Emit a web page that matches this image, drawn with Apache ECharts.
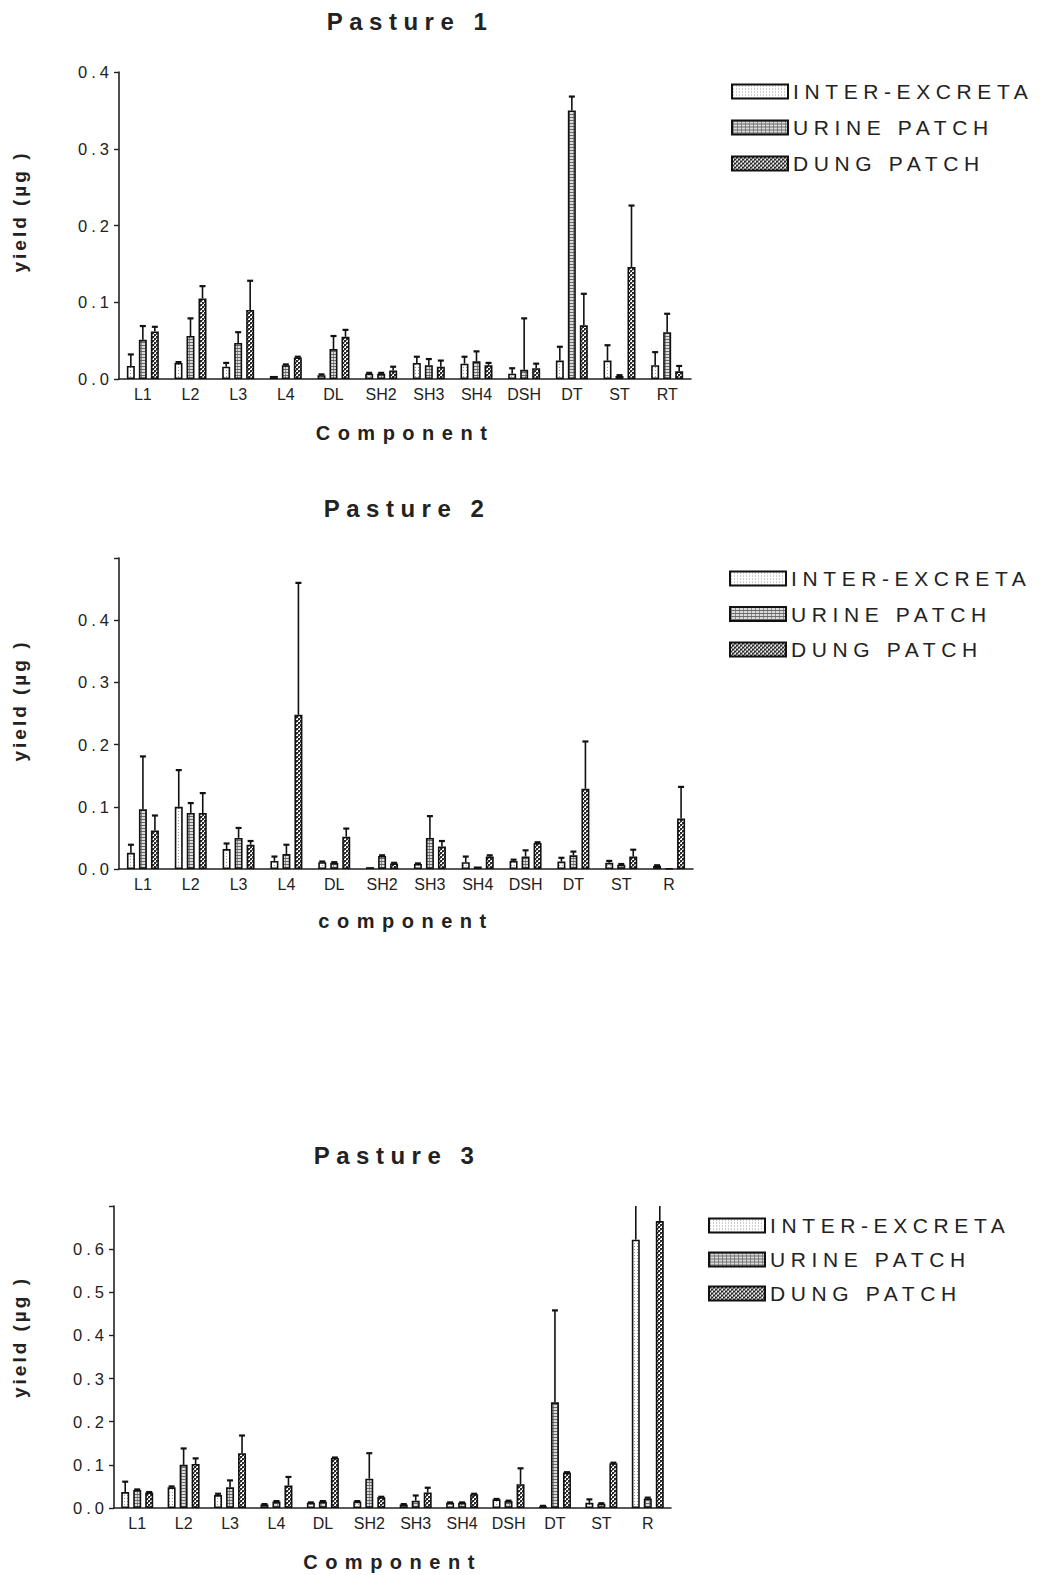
<!DOCTYPE html>
<html><head><meta charset="utf-8">
<script src="https://cdn.jsdelivr.net/npm/echarts@6/dist/echarts.min.js"></script>
<style>
html,body{margin:0;padding:0;background:#fff}
#c{width:1042px;height:1575px}
/* letter spacing of the original typeset figure, keyed by font size */
#c text[style*="24px"]{letter-spacing:6.5px}
#c text[style*="21px"]{letter-spacing:5.6px}
#c text[style*="16.5px"]{letter-spacing:4px}
#c text[style*="20px"]{letter-spacing:7.5px}
#c text[style*="19px"]{letter-spacing:3px}
</style>
</head><body><div id="c"></div>
<script>
// ---------- DATA ----------
const seriesNames = ['INTER-EXCRETA', 'URINE PATCH', 'DUNG PATCH'];
const cats1 = ['L1','L2','L3','L4','DL','SH2','SH3','SH4','DSH','DT','ST','RT'];
const cats2 = ['L1','L2','L3','L4','DL','SH2','SH3','SH4','DSH','DT','ST','R'];
const cats3 = ['L1','L2','L3','L4','DL','SH2','SH3','SH4','DSH','DT','ST','R'];
const yTicks1 = [0, 0.1, 0.2, 0.3, 0.4];
const yTicks2 = [0, 0.1, 0.2, 0.3, 0.4];
const yTicks3 = [0, 0.1, 0.2, 0.3, 0.4, 0.5, 0.6];

// Pasture 1
const p1_ie     = [0.017,0.021,0.016,0.004,0.005,0.007,0.021,0.020,0.007,0.024,0.024,0.018];
const p1_ie_err = [0.032,0.022,0.021,0.004,0.006,0.008,0.029,0.029,0.014,0.042,0.044,0.035];
const p1_up     = [0.051,0.056,0.047,0.018,0.039,0.007,0.018,0.023,0.012,0.350,0.004,0.061];
const p1_up_err = [0.069,0.079,0.061,0.019,0.056,0.008,0.026,0.036,0.079,0.368,0.005,0.085];
const p1_dp     = [0.062,0.105,0.090,0.028,0.055,0.011,0.016,0.018,0.014,0.070,0.146,0.010];
const p1_dp_err = [0.068,0.121,0.128,0.029,0.064,0.016,0.024,0.021,0.020,0.111,0.226,0.017];
// Pasture 2
const p2_ie     = [0.026,0.100,0.032,0.013,0.011,0.003,0.008,0.011,0.013,0.012,0.010,0.005];
const p2_ie_err = [0.039,0.159,0.041,0.020,0.012,0.003,0.009,0.020,0.015,0.018,0.013,0.006];
const p2_up     = [0.096,0.090,0.050,0.024,0.010,0.021,0.050,0.004,0.020,0.022,0.007,0.001];
const p2_up_err = [0.181,0.106,0.066,0.039,0.011,0.022,0.085,0.004,0.030,0.028,0.008,0.001];
const p2_dp     = [0.062,0.090,0.039,0.248,0.052,0.009,0.036,0.020,0.042,0.129,0.020,0.081];
const p2_dp_err = [0.086,0.122,0.045,0.460,0.065,0.010,0.045,0.022,0.043,0.205,0.031,0.132];
// Pasture 3
const p3_ie     = [0.037,0.048,0.030,0.008,0.012,0.015,0.008,0.012,0.020,0.004,0.012,0.622];
const p3_ie_err = [0.061,0.050,0.033,0.009,0.013,0.016,0.009,0.013,0.021,0.005,0.020,0.800];
const p3_up     = [0.042,0.100,0.048,0.015,0.015,0.068,0.017,0.012,0.016,0.245,0.010,0.022];
const p3_up_err = [0.043,0.138,0.064,0.016,0.016,0.127,0.029,0.013,0.017,0.458,0.011,0.024];
const p3_dp     = [0.036,0.102,0.127,0.052,0.116,0.025,0.036,0.032,0.055,0.082,0.104,0.665];
const p3_dp_err = [0.037,0.115,0.168,0.072,0.117,0.026,0.047,0.033,0.092,0.083,0.105,0.800];

// ---------- PATTERNS ----------
function makePattern(kind){
  const c = document.createElement('canvas');
  const ctx = c.getContext('2d');
  if (kind === 'ie'){
    c.width = 3; c.height = 3;
    ctx.fillStyle = '#ffffff'; ctx.fillRect(0,0,3,3);
    ctx.fillStyle = '#9a9a9a'; ctx.fillRect(1,1,1,1);
  } else if (kind === 'up'){
    c.width = 4; c.height = 3;
    ctx.fillStyle = '#dcdcdc'; ctx.fillRect(0,0,4,3);
    ctx.fillStyle = '#6a6a6a'; ctx.fillRect(0,0,4,1);
    ctx.fillStyle = '#8a8a8a'; ctx.fillRect(1,1,1,2);
  } else {
    c.width = 4; c.height = 4;
    ctx.fillStyle = '#ffffff'; ctx.fillRect(0,0,4,4);
    ctx.fillStyle = '#2a2a2a'; ctx.fillRect(0,0,2,2); ctx.fillRect(2,2,2,2);
    ctx.fillStyle = '#777777'; ctx.fillRect(2,0,1,1); ctx.fillRect(0,2,1,1);
  }
  return {image: c, repeat: 'repeat'};
}
const patterns = [makePattern('ie'), makePattern('up'), makePattern('dp')];

// ---------- LAYOUT ----------
const FONT = 'Liberation Sans';
const BW = 8, GAP = 4;
const offsets = [-(BW+GAP), 0, (BW+GAP)];

const panels = [
  {title:'Pasture 1', tx:405, ty:4, cats:cats1, ticks:yTicks1, max:0.4, interval:0.1,
   grid:{left:119, top:72, width:572, height:307}, xname:'Component', xgap:44, ygap:90, yshift:28,
   legend:{left:726, top:76, gap:15},
   data:[[p1_ie,p1_ie_err],[p1_up,p1_up_err],[p1_dp,p1_dp_err]]},
  {title:'Pasture 2', tx:402, ty:491, cats:cats2, ticks:yTicks2, max:0.5, interval:0.1,
   grid:{left:119, top:558, width:574, height:311}, xname:'component', xgap:42, ygap:90, yshift:26,
   legend:{left:724, top:563, gap:14.5},
   data:[[p2_ie,p2_ie_err],[p2_up,p2_up_err],[p2_dp,p2_dp_err]]},
  {title:'Pasture 3', tx:392, ty:1138, cats:cats3, ticks:yTicks3, max:0.7, interval:0.1,
   grid:{left:114, top:1206, width:557, height:302}, xname:'Component', xgap:44, ygap:85, yshift:40,
   legend:{left:703, top:1210, gap:13},
   data:[[p3_ie,p3_ie_err],[p3_up,p3_up_err],[p3_dp,p3_dp_err]]}
];

function errRender(offset){
  return function(params, api){
    const v = api.value(1), e = api.value(2);
    if (!(e > v)) return null;
    const base = api.coord([api.value(0), v]);
    const top = api.coord([api.value(0), e]);
    const cs = params.coordSys;
    const cx = base[0] + offset;
    let ty = top[1];
    const clipped = ty < cs.y;
    if (clipped) ty = cs.y;
    const children = [{type:'line', shape:{x1:cx, y1:base[1], x2:cx, y2:ty}, style:{stroke:'#111', lineWidth:1.6}}];
    if (!clipped) children.push({type:'line', shape:{x1:cx-3, y1:ty, x2:cx+3, y2:ty}, style:{stroke:'#111', lineWidth:2.2}});
    return {type:'group', children};
  };
}

const option = {
  backgroundColor:'#fff', animation:false,
  title:[], grid:[], xAxis:[], yAxis:[], legend:[], series:[]
};

panels.forEach((p, pi) => {
  option.title.push({text:p.title, left:p.tx, top:p.ty, textAlign:'center',
    textStyle:{fontFamily:FONT, fontSize:24, fontWeight:'bold', color:'#222'}});
  option.grid.push(Object.assign({containLabel:false}, p.grid));
  option.xAxis.push({type:'category', gridIndex:pi, data:p.cats,
    axisLine:{lineStyle:{color:'#222', width:1.6}}, axisTick:{show:false},
    axisLabel:{fontFamily:FONT, fontSize:16, color:'#222', margin:7, interval:0},
    name:p.xname, nameLocation:'middle', nameGap:p.xgap,
    nameTextStyle:{fontFamily:FONT, fontSize:20, fontWeight:'bold', color:'#222'}});
  const maxLbl = p.ticks[p.ticks.length-1];
  option.yAxis.push({type:'value', gridIndex:pi, min:0, max:p.max, interval:p.interval,
    splitLine:{show:false},
    axisLine:{show:true, lineStyle:{color:'#222', width:1.6}},
    axisTick:{show:true, length:5, lineStyle:{color:'#222', width:1.4}},
    axisLabel:{fontFamily:FONT, fontSize:16.5, color:'#222', margin:6,
      formatter: v => (v <= maxLbl + 1e-9 ? v.toFixed(1) : '')},
    name:'yield (µg )', nameLocation:'middle', nameGap:p.ygap,
    nameTextStyle:{fontFamily:FONT, fontSize:19, fontWeight:'bold', color:'#222',
      padding:[0,0,0,p.yshift]}});
  option.legend.push({data:seriesNames, orient:'vertical', left:p.legend.left, top:p.legend.top,
    icon:'rect', itemWidth:56, itemHeight:14, itemGap:p.legend.gap, selectedMode:false,
    textStyle:{fontFamily:FONT, fontSize:21, lineHeight:21, color:'#222'}});
  p.data.forEach((d, si) => {
    option.series.push({type:'bar', name:seriesNames[si], xAxisIndex:pi, yAxisIndex:pi,
      data:d[0], barWidth:BW, barGap:'50%',
      itemStyle:{color:patterns[si], borderColor:'#111', borderWidth:1.6}});
  });
  p.data.forEach((d, si) => {
    option.series.push({type:'custom', name:seriesNames[si], xAxisIndex:pi, yAxisIndex:pi,
      renderItem:errRender(offsets[si]), z:5, silent:true,
      encode:{x:0, y:1},
      data:d[0].map((v, i) => [i, v, d[1][i]])});
  });
});

const chart = echarts.init(document.getElementById('c'), null, {renderer:'svg'});
chart.setOption(option);
</script>
</body></html>
